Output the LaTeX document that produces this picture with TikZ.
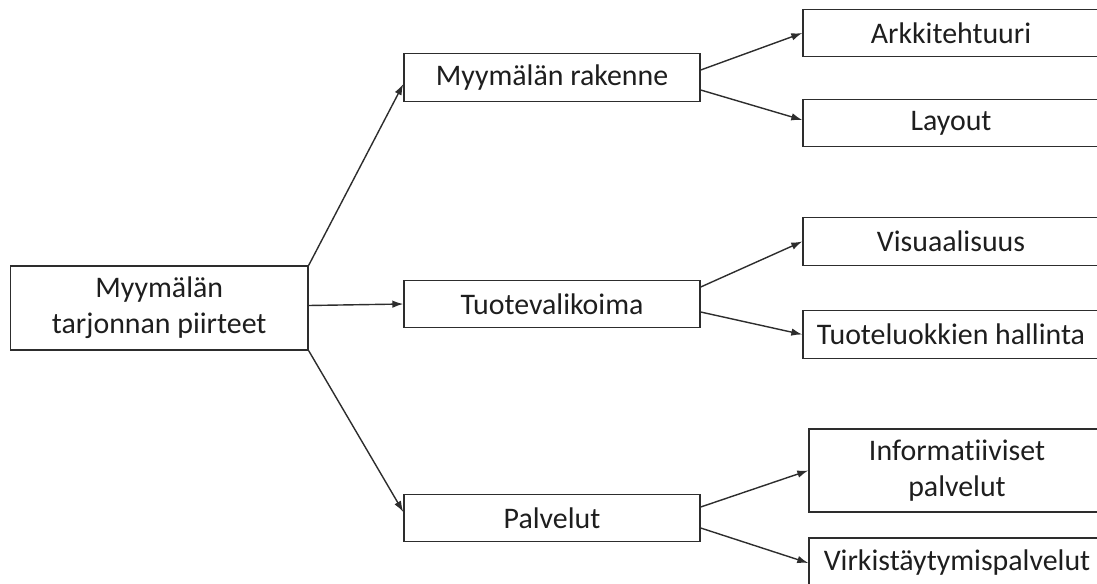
\documentclass[tikz,border=0pt]{standalone}
\usepackage{fontspec}
\setmainfont{Carlito}[Ligatures=NoCommon]
\usepackage{tikz}
\usetikzlibrary{positioning,arrows.meta,calc}
\definecolor{boxline}{RGB}{45,45,45}
\definecolor{boxtext}{RGB}{30,30,30}
\tikzset{
  box/.style={draw=boxline, line width=0.8pt, minimum width=5.92cm, minimum height=0.95cm,
              inner sep=2pt, align=center, text=boxtext, font=\fontsize{17}{20.5}\selectfont},
  rootbox/.style={box, minimum width=5.95cm, minimum height=1.68cm},
  edge/.style={-{Latex[length=2.2mm, width=1.5mm]}, line width=0.8pt, boxline}
}
\begin{document}
\begin{tikzpicture}
\path[use as bounding box, clip] (0,0) rectangle (21.94,-11.66);
\node[rootbox] (root) at (3.185,-6.16) {Myymälän\\tarjonnan piirteet};
\node[box] (rak) at (11.04,-1.55) {Myymälän rakenne};
\node[box] (tuo) at (11.04,-6.08) {Tuotevalikoima};
\node[box] (pal) at (11.04,-10.36) {Palvelut};
\node[box] (ark) at (19.02,-0.66) {Arkkitehtuuri};
\node[box] (lay) at (19.02,-2.46) {Layout};
\node[box] (vis) at (19.02,-4.83) {Visuaalisuus};
\node[box] (hal) at (19.02,-6.69) {Tuoteluokkien hallinta};
\node[box, minimum height=1.66cm] (inf) at (19.14,-9.41) {Informatiiviset\\palvelut};
\node[box, minimum height=1.0cm] (vir) at (19.14,-11.26) {Virkistäytymispalvelut};
\draw[edge] (root.north east) -- ([yshift=-0.13cm]rak.west);
\draw[edge] ([yshift=0.05cm]root.east) -- (tuo.west);
\draw[edge] (root.south east) -- ([yshift=0.12cm]pal.west);
\draw[edge] ([yshift=0.15cm]rak.east) -- (ark.west);
\draw[edge] ([yshift=-0.25cm]rak.east) -- ([yshift=0.06cm]lay.west);
\draw[edge] ([yshift=0.34cm]tuo.east) -- (vis.west);
\draw[edge] ([yshift=-0.16cm]tuo.east) -- (hal.west);
\draw[edge] ([yshift=0.22cm]pal.east) -- (inf.west);
\draw[edge] ([yshift=-0.2cm]pal.east) -- (vir.west);
\end{tikzpicture}
\end{document}
